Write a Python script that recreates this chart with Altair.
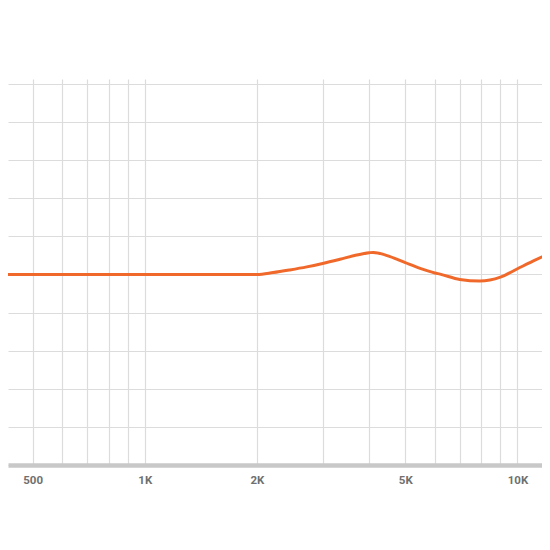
import altair as alt
import pandas as pd

# Frequency response (Hz) and level (dB)
freq = [400, 1000, 1500, 2000, 2210, 2450, 2720, 3000, 3340, 3700, 4000, 4100,
        4550, 5000, 5480, 6000, 6200, 7000, 7930, 9000, 10000, 11000, 12300]
level = [0, 0, 0, 0, 0.05, 0.12, 0.20, 0.29, 0.40, 0.51, 0.57, 0.58,
         0.47, 0.31, 0.16, 0.04, 0.01, -0.13, -0.17, -0.07, 0.15, 0.35, 0.57]

grid_x = [400, 500, 600, 700, 800, 900, 1000, 2000, 3000, 4000, 5000,
          6000, 7000, 8000, 9000, 10000]
label_map = {500: "500", 1000: "1K", 2000: "2K", 5000: "5K", 10000: "10K"}
grid_y = [-5, -4, -3, -2, -1, 0, 1, 2, 3, 4, 5]

df = pd.DataFrame({"freq": freq, "level": level})

label_expr = " : ".join(
    f"datum.value == {k} ? '{v}'" for k, v in label_map.items()
) + " : ''"

chart = (
    alt.Chart(df)
    .mark_line(color="#f0692a", strokeWidth=3, interpolate="monotone", clip=True)
    .encode(
        x=alt.X(
            "freq:Q",
            scale=alt.Scale(type="log", domain=[429.5, 11636], nice=False),
            axis=alt.Axis(
                values=grid_x,
                labelExpr=label_expr,
                title=None,
                ticks=False,
                grid=True,
                gridColor="#dcdcdc",
                gridWidth=1.2,
                domainColor="#c8c8c8",
                domainWidth=4.5,
                labelFont="Liberation Sans Narrow, Roboto, sans-serif",
                labelFontWeight="bold",
                labelFontSize=11.5,
                labelColor="#707070",
                labelPadding=9,
                labelFlush=False,
                labelOverlap=False,
            ),
        ),
        y=alt.Y(
            "level:Q",
            scale=alt.Scale(domain=[-5, 5.13], nice=False, zero=False),
            axis=alt.Axis(
                values=grid_y,
                labels=False,
                ticks=False,
                domain=False,
                title=None,
                grid=True,
                gridColor="#dcdcdc",
                gridWidth=1.2,
                minExtent=0,
            ),
        ),
    )
    .properties(
        width=534,
        height=386,
        padding={"left": 0, "top": 71, "right": 0, "bottom": 5},
    )
    .configure_view(stroke=None)
)

chart.save("out.html", embed_options={"renderer": "svg", "actions": False})
